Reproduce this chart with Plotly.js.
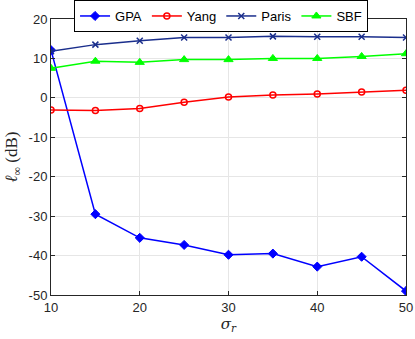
<!DOCTYPE html>
<html><head><meta charset="utf-8">
<script src="https://cdn.plot.ly/plotly-3.0.1.min.js"></script>
<style>body{margin:0;padding:0;background:#fff}#chart{width:415px;height:339px}</style>
</head><body><div id="chart"></div>
<script>
const sigma = [10, 15, 20, 25, 30, 35, 40, 45, 50];
const gpa   = [12.1, -29.5, -35.5, -37.3, -39.8, -39.5, -42.8, -40.3, -49.0];
const yang  = [-3.1, -3.2, -2.7, -1.1, 0.2, 0.7, 1.0, 1.5, 1.9];
const paris = [11.8, 13.5, 14.5, 15.3, 15.3, 15.6, 15.5, 15.5, 15.3];
const sbf   = [7.5, 9.3, 9.0, 9.7, 9.7, 10.0, 10.0, 10.5, 11.2];
const xTicks = [10, 20, 30, 40, 50];
const yTicks = [-50, -40, -30, -20, -10, 0, 10, 20];
const yTickText = ['-50', '-40', '-30', '-20', '-10', '0', '10', '20'];

const mk = (name, y, color, sym, msize, lw) => ({
  x: sigma, y: y, name: name, type: 'scatter', mode: 'lines+markers',
  line: {color: color, width: 1.5},
  marker: {symbol: sym, size: msize, color: color, line: {color: color, width: lw}}
});
const data = [
  mk('GPA', gpa, '#0000ff', 'diamond', 7, 1),
  mk('Yang', yang, '#ff0000', 'circle-open', 6, 1.5),
  mk('Paris', paris, '#1a2e8c', 'x-thin-open', 6, 1.5),
  mk('SBF', sbf, '#00ff00', 'triangle-up', 8, 1)
];
const axisCommon = {
  showline: true, linecolor: '#262626', linewidth: 1, mirror: 'ticks',
  ticks: 'inside', ticklen: 4, tickcolor: '#262626',
  showgrid: true, gridcolor: '#e6e6e6', gridwidth: 1, zeroline: false,
  tickfont: {family: 'Liberation Sans, Arial, sans-serif', size: 13, color: '#262626'}
};
const layout = {
  width: 415, height: 339,
  margin: {l: 51, r: 9, t: 19, b: 44, autoexpand: false},
  paper_bgcolor: '#fff', plot_bgcolor: '#fff',
  showlegend: true,
  legend: {orientation: 'h', x: 0.479, xanchor: 'center', y: 1.0688, yanchor: 'top',
    bordercolor: '#000', borderwidth: 1, bgcolor: '#fff',
    font: {family: 'Liberation Sans, Arial, sans-serif', size: 13, color: '#000'},
    itemwidth: 30, tracegroupgap: 0},
  xaxis: Object.assign({}, axisCommon, {range: [10, 50], tickvals: xTicks,
    title: {text: '<i>σ<sub>r</sub></i>', font: {family: 'DejaVu Serif, Liberation Serif, serif', size: 15, color: '#262626'}, standoff: 3}}),
  yaxis: Object.assign({}, axisCommon, {range: [-50, 20], tickvals: yTicks, ticktext: yTickText,
    title: {text: '<i>ℓ</i><sub>∞</sub> (dB)', font: {family: 'Liberation Serif, DejaVu Serif, serif', size: 17, color: '#262626'}, standoff: 6}})
};
Plotly.newPlot('chart', data, layout, {displayModeBar: false, staticPlot: true});
</script></body></html>
